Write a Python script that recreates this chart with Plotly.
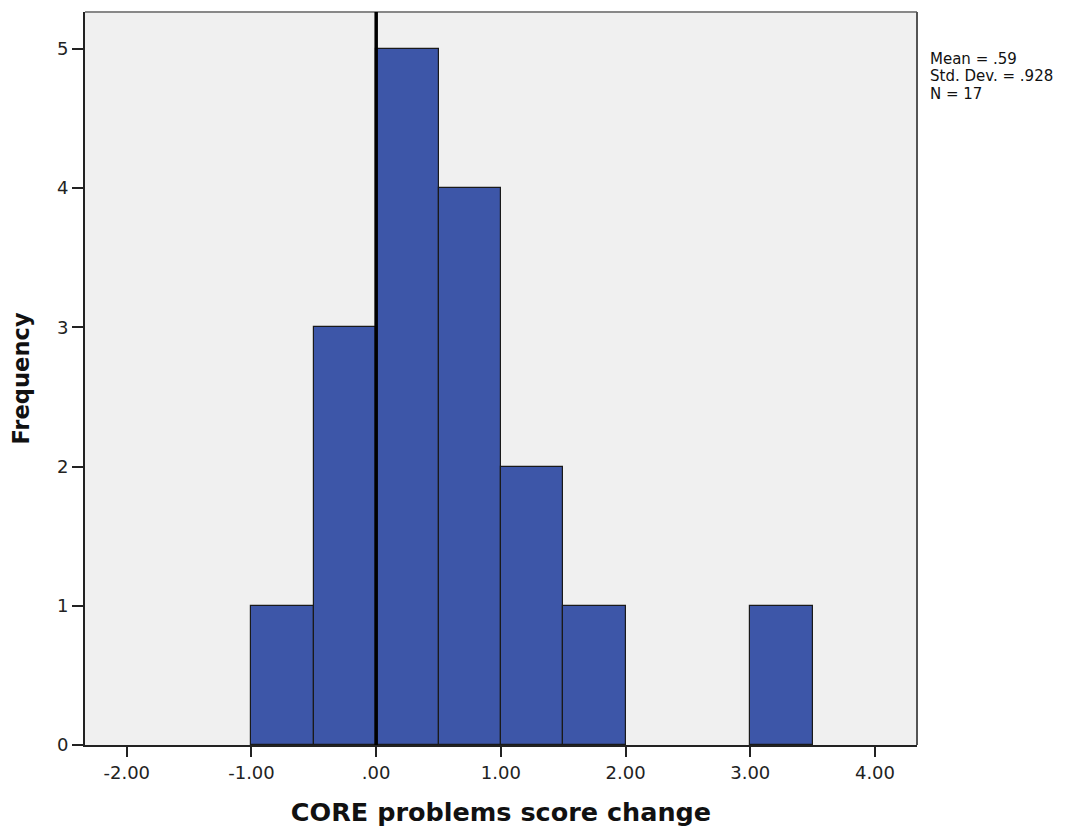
import plotly.graph_objects as go

# Histogram bins (left edges, width 0.5) and frequencies
bin_left = [-1.0, -0.5, 0.0, 0.5, 1.0, 1.5, 3.0]
bin_width = 0.5
freq = [1, 3, 5, 4, 2, 1, 1]

x_tickvals = [-2, -1, 0, 1, 2, 3, 4]
x_ticktext = ["-2.00", "-1.00", ".00", "1.00", "2.00", "3.00", "4.00"]
y_tickvals = [0, 1, 2, 3, 4, 5]

stats_lines = ["Mean = .59", "Std. Dev. = .928", "N = 17"]
ref_line_x = 0.0

centers = [b + bin_width / 2 for b in bin_left]

FONT = "DejaVu Sans"
OFF = 8  # page body margin offset

fig = go.Figure()
fig.add_trace(go.Bar(
    x=centers, y=freq, width=[bin_width] * len(freq),
    marker=dict(color="#3d56a8", line=dict(color="#1a1a1a", width=1.2)),
    hoverinfo="x+y", showlegend=False,
))

fig.update_layout(
    width=1090 - OFF, height=827 - OFF,
    margin=dict(l=85 - OFF, r=173, t=12 - OFF, b=82, autoexpand=False),
    paper_bgcolor="white", plot_bgcolor="#f0f0f0",
    bargap=0,
    font=dict(family=FONT, color="#222222", size=18),
    xaxis=dict(
        range=[-2.335, 4.337], tickvals=x_tickvals, ticktext=x_ticktext,
        showgrid=False, zeroline=False, showline=True, linecolor="#222222", linewidth=2,
        ticks="outside", ticklen=10, tickwidth=2, tickcolor="#222222",
        tickfont=dict(family=FONT, size=18, color="#222222"),
        title=dict(text="<b>CORE problems score change</b>", font=dict(family=FONT, size=25.5, color="#111111"), standoff=22),
    ),
    yaxis=dict(
        range=[0, 5.265], tickvals=y_tickvals,
        showgrid=False, zeroline=False, showline=True, linecolor="#222222", linewidth=2,
        ticks="outside", ticklen=11, tickwidth=2, tickcolor="#222222",
        tickfont=dict(family=FONT, size=18, color="#222222"),
        title=dict(text="<b>Frequency</b>", font=dict(family=FONT, size=22.6, color="#111111"), standoff=22),
    ),
)

# top and right frame lines
fig.add_shape(type="line", xref="paper", yref="paper", x0=0, x1=1, y0=1, y1=1,
              line=dict(color="#888888", width=2))
fig.add_shape(type="line", xref="paper", yref="paper", x0=1, x1=1, y0=0, y1=1,
              line=dict(color="#555555", width=2))
# reference line at zero
fig.add_shape(type="line", xref="x", yref="paper", x0=ref_line_x, x1=ref_line_x, y0=0, y1=1,
              line=dict(color="black", width=3.5), layer="above")

# stats text
y0_px = 58.5
for i, t in enumerate(stats_lines):
    ypx = y0_px + i * 17.6
    fig.add_annotation(
        text=t, xref="paper", yref="paper",
        x=(929 - 85) / 832, y=(745 - ypx) / 733,
        xanchor="left", yanchor="middle", showarrow=False, borderpad=0,
        font=dict(family=FONT, size=15, color="#111111"),
    )

fig.write_html("out.html")
